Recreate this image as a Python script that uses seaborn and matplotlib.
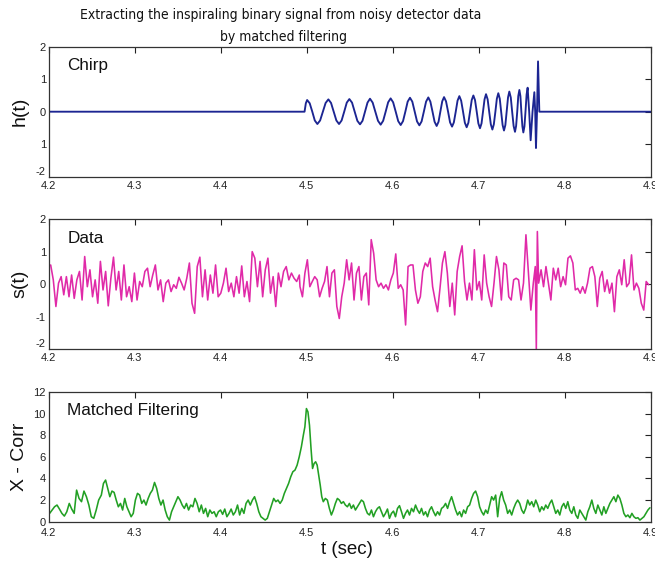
import numpy as np
import pandas as pd
import matplotlib
matplotlib.use("Agg")
import matplotlib.pyplot as plt
import seaborn as sns
from matplotlib import font_manager
from matplotlib.font_manager import FontProperties

# ------------------------------------------------------------------ data
title_lines = ["Extracting the inspiraling binary signal from noisy detector data",
               "by matched filtering"]
panel_names = ["Chirp", "Data", "Matched Filtering"]
y_labels = ["h(t)", "s(t)", "X - Corr"]
x_label = "t (sec)"

time_ticks = [4.2, 4.3, 4.4, 4.5, 4.6, 4.7, 4.8, 4.9]
time_tick_labels = ["4.2", "4.3", "4.4", "4.5", "4.6", "4.7", "4.8", "4.9"]
h_ticks = [-2, -1, 0, 1, 2]
h_tick_labels = ["-2", "1", "0", "1", "2"]
s_ticks = [-2, -1, 0, 1, 2]
s_tick_labels = ["-2", "-1", "0", "1", "2"]
xc_ticks = [0, 2, 4, 6, 8, 10, 12]
xc_tick_labels = ["0", "2", "4", "6", "8", "10", "12"]

# chirp h(t): times (s) and values
chirp_t = [4.2000, 4.4975, 4.4990, 4.5005,
           4.5035, 4.5065, 4.5094, 4.5124, 4.5156, 4.5188, 4.5220, 4.5252,
           4.5283, 4.5314, 4.5345, 4.5376, 4.5406, 4.5436, 4.5466, 4.5496,
           4.5527, 4.5558, 4.5589, 4.5620, 4.5649, 4.5678, 4.5707, 4.5736,
           4.5767, 4.5798, 4.5829, 4.5860, 4.5889, 4.5918, 4.5947, 4.5976,
           4.6005, 4.6035, 4.6064, 4.6093, 4.6120, 4.6147, 4.6174, 4.6201,
           4.6228, 4.6256, 4.6283, 4.6310, 4.6336, 4.6362, 4.6388, 4.6414,
           4.6438, 4.6463, 4.6487, 4.6511, 4.6533, 4.6554, 4.6576, 4.6597,
           4.6620, 4.6644, 4.6667, 4.6690, 4.6711, 4.6733, 4.6754, 4.6775,
           4.6796, 4.6818, 4.6839, 4.6860, 4.6880, 4.6899, 4.6919, 4.6938,
           4.6957, 4.6977, 4.6996, 4.7015, 4.7033, 4.7050, 4.7068, 4.7085,
           4.7104, 4.7122, 4.7141, 4.7159, 4.7176, 4.7194, 4.7211, 4.7228,
           4.7245, 4.7261, 4.7278, 4.7294, 4.7310, 4.7325, 4.7341, 4.7356,
           4.7373, 4.7389, 4.7406, 4.7422, 4.7435, 4.7448, 4.7460, 4.7473,
           4.7485, 4.7496, 4.7508, 4.7519, 4.7532, 4.7544, 4.7557, 4.7569,
           4.7587, 4.7604, 4.7626, 4.7647, 4.7657, 4.7666, 4.7678, 4.7690,
           4.7705, 4.9000]
chirp_h = [0.0, 0.0, 0.26, 0.36,
           0.26, 0.0, -0.27, -0.38, -0.27, 0.0, 0.27, 0.38,
           0.27, 0.0, -0.27, -0.38, -0.27, 0.0, 0.28, 0.39,
           0.28, 0.0, -0.28, -0.39, -0.28, 0.0, 0.28, 0.40,
           0.28, 0.0, -0.28, -0.40, -0.28, 0.0, 0.29, 0.41,
           0.29, 0.0, -0.29, -0.41, -0.29, 0.0, 0.31, 0.43,
           0.31, 0.0, -0.30, -0.42, -0.30, 0.0, 0.31, 0.44,
           0.31, 0.0, -0.31, -0.44, -0.31, 0.0, 0.32, 0.45,
           0.32, 0.0, -0.33, -0.46, -0.33, 0.0, 0.34, 0.48,
           0.34, 0.0, -0.34, -0.48, -0.34, 0.0, 0.36, 0.50,
           0.36, 0.0, -0.36, -0.51, -0.36, 0.0, 0.38, 0.54,
           0.38, 0.0, -0.39, -0.55, -0.39, 0.0, 0.40, 0.57,
           0.40, 0.0, -0.41, -0.58, -0.41, 0.0, 0.44, 0.62,
           0.44, 0.0, -0.44, -0.62, -0.44, 0.0, 0.48, 0.67,
           0.48, 0.0, -0.45, -0.64, -0.45, 0.0, 0.53, 0.74,
           0.0, -0.88, 0.0, 0.60, 0.0, -1.12, 0.0, 1.55,
           0.0, 0.0]

# noisy detector data s(t): evenly sampled stretches (start, end) + values
data_span_a = (4.2023, 4.4914)
data_vals_a = [0.59, 0.13, -0.69, 0.03, 0.23, -0.33, 0.23, -0.39, 0.28, -0.44,
               0.13, 0.39, -0.49, 0.85, -0.08, 0.44, -0.39, 0.13, -0.59, 0.70,
               -0.18, 0.39, -0.67, 0.18, 0.83, -0.18, 0.39, -0.49, 0.59, -0.39,
               -0.08, -0.54, 0.34, -0.49, 0.08, -0.08, 0.39, 0.49, -0.08, 0.28,
               0.59, -0.18, 0.13, -0.54, 0.03, 0.13, -0.23, -0.02, -0.13, 0.21,
               0.03, -0.18, 0.18, 0.65, -0.59, -0.90, 0.54, 0.83, -0.39, 0.44,
               -0.49, 0.28, -0.28, 0.59, -0.39, -0.28, 0.03, 0.49, -0.23, 0.03,
               -0.39, 0.23, -0.28, 0.56, -0.39, 0.08, -0.54, 1.00, 0.80, -0.08,
               0.70, -0.39, 0.44, 0.80, -0.28, 0.23, -0.69, 0.34, -0.08, 0.39,
               0.54, 0.13, 0.34, 0.18, 0.08, 0.28]
data_span_b = (4.4922, 4.7635)
data_vals_b = [-0.08, -0.39, 0.34, 0.75, -0.08, 0.08, 0.23, 0.13, -0.39, -0.13,
               0.08, 0.54, -0.39, 0.34, 0.44, -0.69, -1.06, -0.39, 0.03, 0.75,
               0.13, 0.65, -0.49, 0.34, 0.54, -0.49, 0.23, 0.34, -0.64, 1.37,
               0.95, 0.13, -0.08, 0.03, -0.13, -0.02, -0.18, 0.13, 0.34, 0.93,
               -0.13, -0.02, -0.18, -1.26, 0.54, 0.59, 0.59, -0.18, -0.59, -0.39,
               0.39, 0.65, 0.54, 0.80, -0.08, -0.49, -0.85, -0.13, 0.65, 1.00,
               0.34, -0.69, 0.03, -0.95, 0.39, 0.85, 1.18, 0.08, -0.49, 0.03,
               -0.49, 1.06, -0.18, 0.08, -0.49, 0.90, 0.03, -0.39, -0.69, 0.03,
               0.85, 0.44, -0.49, 0.65, 0.59, -0.39, -0.49, 0.13, 0.18, 0.13,
               -0.49, 0.03, 1.52, 0.34, -0.80, 0.03]
data_span_spike = (4.7658, 4.7682)
data_vals_spike = [0.54, -2.05, 1.62]
data_span_c = (4.7697, 4.8976)
data_vals_c = [0.03, 0.44, -0.08, 0.54, 0.03, -0.49, 0.49, 0.13, 0.49, -0.08,
               0.23, -0.02, 0.80, 0.87, 0.65, -0.18, -0.13, -0.28, -0.08, -0.28,
               0.03, 0.49, 0.54, 0.23, -0.69, 0.18, 0.39, -0.23, 0.13, -0.28,
               0.03, -0.85, 0.23, 0.44, -0.02, 0.75, -0.08, 0.03, 0.90, -0.18,
               0.03, -0.13, -0.59, -0.80, 0.08, -0.02]

# cross-correlation output
xc_span_a = (4.2011, 4.2581)
xc_vals_a = [0.77, 1.08, 1.38, 1.54, 1.17, 0.77, 0.52, 0.92, 1.69, 1.17,
             0.77, 2.92, 2.15, 1.85, 2.83, 2.31, 1.54, 0.46, 0.31, 1.08, 2.00]
xc_span_b = (4.2612, 4.4938)
xc_vals_b = [2.46, 3.54, 3.85, 3.08, 2.31, 2.83, 2.71, 2.00, 1.38, 1.69,
             1.08, 2.15, 1.38, 0.92, 0.46, 0.77, 2.00, 2.62, 2.46, 1.69,
             2.00, 1.54, 2.15, 2.62, 2.92, 3.63, 3.08, 2.15, 1.54, 2.00,
             1.08, 0.46, 0.15, 0.92, 1.38, 1.85, 2.31, 2.00, 1.54, 1.23,
             1.69, 1.08, 1.54, 1.38, 2.15, 1.69, 0.92, 1.54, 0.77, 1.23,
             0.46, 1.08, 0.77, 0.92, 0.46, 0.92, 1.08, 0.68, 1.17, 0.46,
             0.77, 1.17, 0.62, 0.92, 1.54, 0.62, 1.23, 0.77, 1.69, 2.00,
             1.54, 2.00, 2.31, 1.69, 0.92, 0.46, 0.31, 0.15, 0.31, 0.92,
             1.54, 2.15, 1.85, 2.00, 1.69, 2.00, 2.62, 3.08, 3.54, 4.15,
             4.62, 4.77, 5.23, 6.00, 6.92]
xc_span_peak = (4.4961, 4.5193)
xc_vals_peak = [8.00, 8.77, 10.46, 10.15, 8.92, 6.77, 4.92, 5.38, 5.54, 5.23,
                4.31, 3.38, 2.31, 1.85]
xc_span_c = (4.5217, 4.8991)
xc_vals_c = [2.15, 2.00, 1.23, 0.62, 1.08, 1.69, 2.15, 2.00, 1.69, 1.85,
             1.54, 1.38, 1.69,
             1.23, 1.54, 1.08, 1.38, 1.69, 2.00, 1.85, 1.23, 0.77, 0.62,
             1.08, 0.46, 0.92, 1.23, 1.38, 0.92, 0.46, 0.77, 1.17, 0.31,
             0.77, 0.98, 0.46, 1.23, 1.48, 0.92, 0.31, 0.77, 1.08, 0.62,
             1.23, 0.92, 1.54, 1.08, 0.77, 1.23, 0.62, 0.92, 0.46, 1.08,
             1.38, 0.92, 0.55, 0.92, 0.62, 1.23, 1.38, 1.69, 1.23, 1.85,
             2.31, 1.69, 1.08, 0.62, 0.92, 0.46, 1.08, 0.77, 1.38, 1.54,
             2.15, 2.62, 2.83, 2.31, 1.38, 0.92, 0.62, 1.08, 0.77, 1.54,
             2.31, 2.00, 2.46, 0.46, 2.15, 2.77, 2.00, 1.54, 0.77, 1.08,
             0.62, 1.23, 1.69, 2.00, 1.69, 1.08, 0.77, 1.23, 2.00, 1.54,
             1.85, 1.38, 2.00, 1.54, 0.92, 1.38, 1.08, 1.54, 1.23, 1.69,
             2.00, 1.38, 0.77, 1.08, 0.62, 1.38, 1.69, 1.23, 1.85, 1.08,
             0.77, 1.38, 0.62, 0.31, 1.08, 0.77, 0.46, 0.15, 0.92, 1.38,
             2.00, 1.23, 0.77, 1.54, 1.08, 0.62, 1.38, 0.77, 1.23, 1.69,
             2.00, 2.31, 1.85, 2.46, 2.15, 1.54, 0.77, 0.46, 0.62, 0.37,
             0.77, 0.46, 0.31, 0.37, 0.15, 0.31, 0.46, 0.77, 1.08, 1.29]


def sampled(spans_and_values):
    ts, vs = [], []
    for (t0, t1), vals in spans_and_values:
        ts.append(np.linspace(t0, t1, len(vals)))
        vs.append(np.asarray(vals, dtype=float))
    return np.concatenate(ts), np.concatenate(vs)


data_t, data_s = sampled([(data_span_a, data_vals_a), (data_span_b, data_vals_b),
                          (data_span_spike, data_vals_spike), (data_span_c, data_vals_c)])
xc_t, xc_v = sampled([(xc_span_a, xc_vals_a), (xc_span_b, xc_vals_b),
                      (xc_span_peak, xc_vals_peak), (xc_span_c, xc_vals_c)])

df_h = pd.DataFrame({"t": chirp_t, "v": chirp_h})
df_s = pd.DataFrame({"t": data_t, "v": data_s})
df_x = pd.DataFrame({"t": xc_t, "v": xc_v})

# ------------------------------------------------------------------ style
sns.set_style("white")
plt.rcParams["font.family"] = ["Liberation Sans", "DejaVu Sans"]


def find_narrow_font():
    prefs = ["Liberation Sans Narrow", "Arial Narrow", "DejaVu Sans Condensed",
             "Roboto Condensed", "Open Sans Condensed", "Noto Sans Condensed"]
    cands = []
    for f in font_manager.fontManager.ttflist:
        if f.style != "normal":
            continue
        if f.weight not in (400, "normal", "regular"):
            continue
        fn = f.fname.lower()
        if ("narrow" in f.name.lower() or "condensed" in f.name.lower()
                or "narrow" in fn or "condensed" in fn
                or f.stretch in ("condensed", "semi-condensed")):
            if "bold" in fn or "italic" in fn or "oblique" in fn or "light" in fn \
                    or "extra" in fn or "semi" in fn or "medium" in fn or "black" in fn \
                    or "thin" in fn or "mono" in fn:
                continue
            cands.append(f)
    for p in prefs:
        for f in cands:
            if p.lower().replace(" ", "") in (f.name + f.fname).lower().replace(" ", "").replace("-", ""):
                return f.fname
    return cands[0].fname if cands else None


narrow_path = find_narrow_font()
if narrow_path:
    title_fp = FontProperties(fname=narrow_path, size=10.0)
else:
    title_fp = FontProperties(family=["Liberation Sans", "DejaVu Sans"], size=10.5)

W_PX, H_PX = 655, 562
fig = plt.figure(figsize=(W_PX / 100, H_PX / 100), dpi=100)
left = 48.7 / W_PX
width = 602.0 / W_PX
height = 129.8 / H_PX
bottoms = [1 - 176.6 / H_PX, 1 - 349.0 / H_PX, 1 - 521.7 / H_PX]
axes = [fig.add_axes([left, b, width, height]) for b in bottoms]

colors = ["#1c2592", "#e02aa8", "#22a024"]
widths = [1.35, 1.15, 1.15]
frames = [df_h, df_s, df_x]
ylims = [(-2, 2), (-2, 2), (0, 12)]
yticks = [(h_ticks, h_tick_labels), (s_ticks, s_tick_labels), (xc_ticks, xc_tick_labels)]
xpads = [3.0, 3.2, 4.4]

for i, (ax, df, c, lw, yl, (yt, ytl), name, ylab) in enumerate(
        zip(axes, frames, colors, widths, ylims, yticks, panel_names, y_labels)):
    sns.lineplot(data=df, x="t", y="v", ax=ax, color=c, linewidth=lw,
                 estimator=None, sort=False)
    ax.set_xlim(4.2, 4.9)
    ax.set_ylim(*yl)
    ax.set_xticks(time_ticks)
    ax.set_xticklabels(time_tick_labels)
    ax.set_yticks(yt)
    ax.set_yticklabels(ytl)
    ax.tick_params(direction="in", length=4, width=0.8, top=True, right=True,
                   labelsize=8, colors="#222222")
    ax.tick_params(axis="x", pad=xpads[i])
    ax.tick_params(axis="y", pad=2)
    if i < 2:
        # the lowest label sits just above the lower-left corner, as in the original
        ax.get_yticklabels()[0].set_verticalalignment("bottom")
    for sp in ax.spines.values():
        sp.set_color("#333333")
        sp.set_linewidth(0.9)
    ax.set_xlabel("")
    ax.set_ylabel(ylab, fontsize=14, color="#111111")
    ax.yaxis.set_label_coords(-0.034, 0.5)
    ax.text(0.031, 0.855, name, transform=ax.transAxes, fontsize=12.3,
            ha="left", va="center", color="#111111")

axes[2].set_xlabel(x_label, fontsize=13.5, color="#111111")
axes[2].xaxis.set_label_coords(0.495, -0.15)

fig.text(281 / W_PX, 1 - 14.5 / H_PX, title_lines[0], ha="center", va="center",
         fontproperties=title_fp, color="#111111")
fig.text(283 / W_PX, 1 - 36.5 / H_PX, title_lines[1], ha="center", va="center",
         fontproperties=title_fp, color="#111111")

fig.savefig("out.png", dpi=100)
